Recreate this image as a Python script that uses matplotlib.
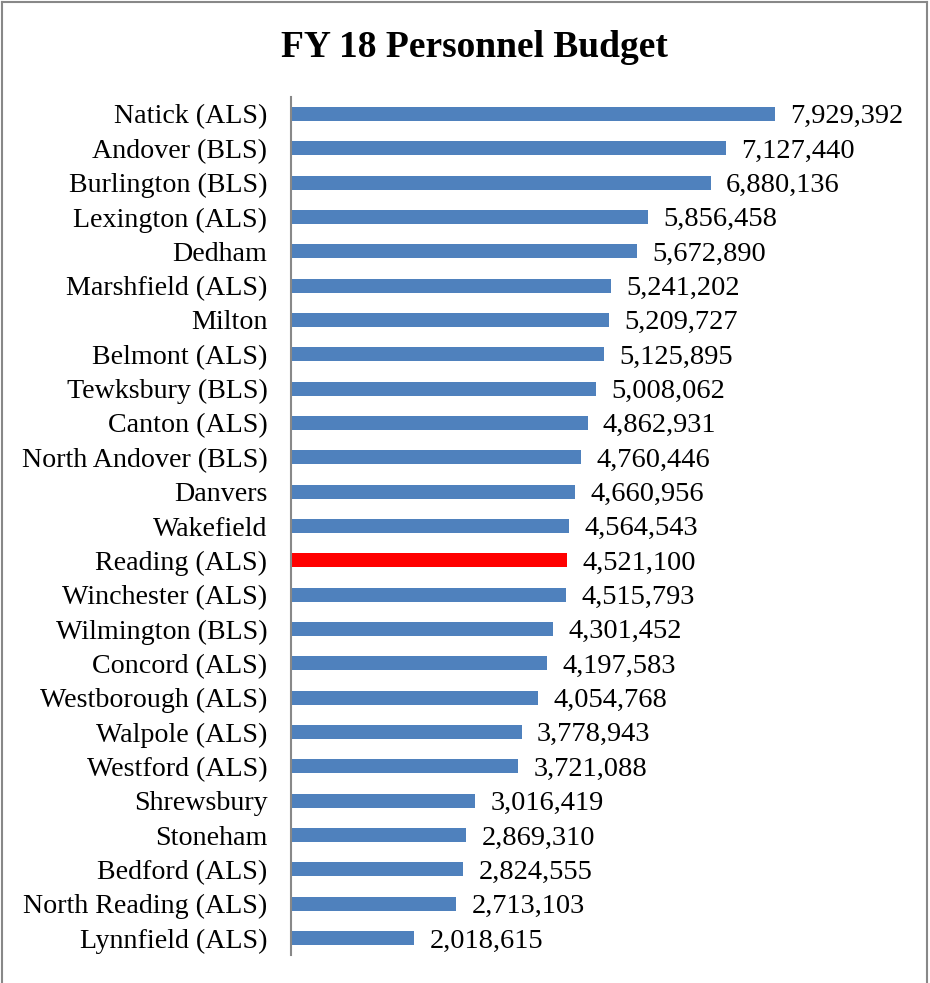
import matplotlib.pyplot as plt
from matplotlib.lines import Line2D

plt.rcParams['font.family'] = ['Liberation Serif', 'DejaVu Serif']

# personnel budget per department, FY 18
departments = [
    'Natick (ALS)', 'Andover (BLS)', 'Burlington (BLS)', 'Lexington (ALS)',
    'Dedham', 'Marshfield (ALS)', 'Milton', 'Belmont (ALS)',
    'Tewksbury (BLS)', 'Canton (ALS)', 'North Andover (BLS)', 'Danvers',
    'Wakefield', 'Reading (ALS)', 'Winchester (ALS)', 'Wilmington (BLS)',
    'Concord (ALS)', 'Westborough (ALS)', 'Walpole (ALS)', 'Westford (ALS)',
    'Shrewsbury', 'Stoneham', 'Bedford (ALS)', 'North Reading (ALS)',
    'Lynnfield (ALS)',
]
budget = [
    7929392, 7127440, 6880136, 5856458, 5672890, 5241202, 5209727, 5125895,
    5008062, 4862931, 4760446, 4660956, 4564543, 4521100, 4515793, 4301452,
    4197583, 4054768, 3778943, 3721088, 3016419, 2869310, 2824555, 2713103,
    2018615,
]
highlight = 'Reading (ALS)'

fig = plt.figure(figsize=(9.3, 9.83), dpi=100)
ax = fig.add_axes([0.3129, 0.0283, 0.6559, 0.8732])

ypos = list(range(len(departments)))
colors = ['#ff0000' if d == highlight else '#4f81bd' for d in departments]
ax.barh(ypos, budget, height=0.41, color=colors)

fs = 20.5
for y, v in zip(ypos, budget):
    # baseline placed so the digits sit centred on the bar
    ax.annotate(f'{v:,}', xy=(v, y), xytext=(11, -0.33 * fs),
                textcoords='offset points', ha='left', va='baseline',
                fontsize=fs, color='black')

ax.set_xlim(0, 10000000)
ax.set_ylim(len(departments) - 0.5, -0.5)
ax.set_yticks(ypos)
ax.set_yticklabels(departments, fontsize=20.2)
ax.tick_params(axis='y', length=0, pad=17)
ax.set_xticks([])

for side in ['top', 'right', 'bottom']:
    ax.spines[side].set_visible(False)
ax.spines['left'].set_color('#888888')
ax.spines['left'].set_linewidth(1.5)

fig.text(474 / 930, 1 - 56.7 / 983, 'FY 18 Personnel Budget', ha='center',
         va='baseline', fontsize=27, fontweight='bold')

# outer chart border
edge = '#888888'
fig.add_artist(Line2D([2 / 930, 2 / 930], [0, 1 - 1.5 / 983], color=edge, lw=1.5))
fig.add_artist(Line2D([2 / 930, 927 / 930], [1 - 1.5 / 983, 1 - 1.5 / 983], color=edge, lw=1.5))
fig.add_artist(Line2D([927 / 930, 927 / 930], [0, 1 - 1.5 / 983], color=edge, lw=1.5))

fig.savefig('out.png', dpi=100)
